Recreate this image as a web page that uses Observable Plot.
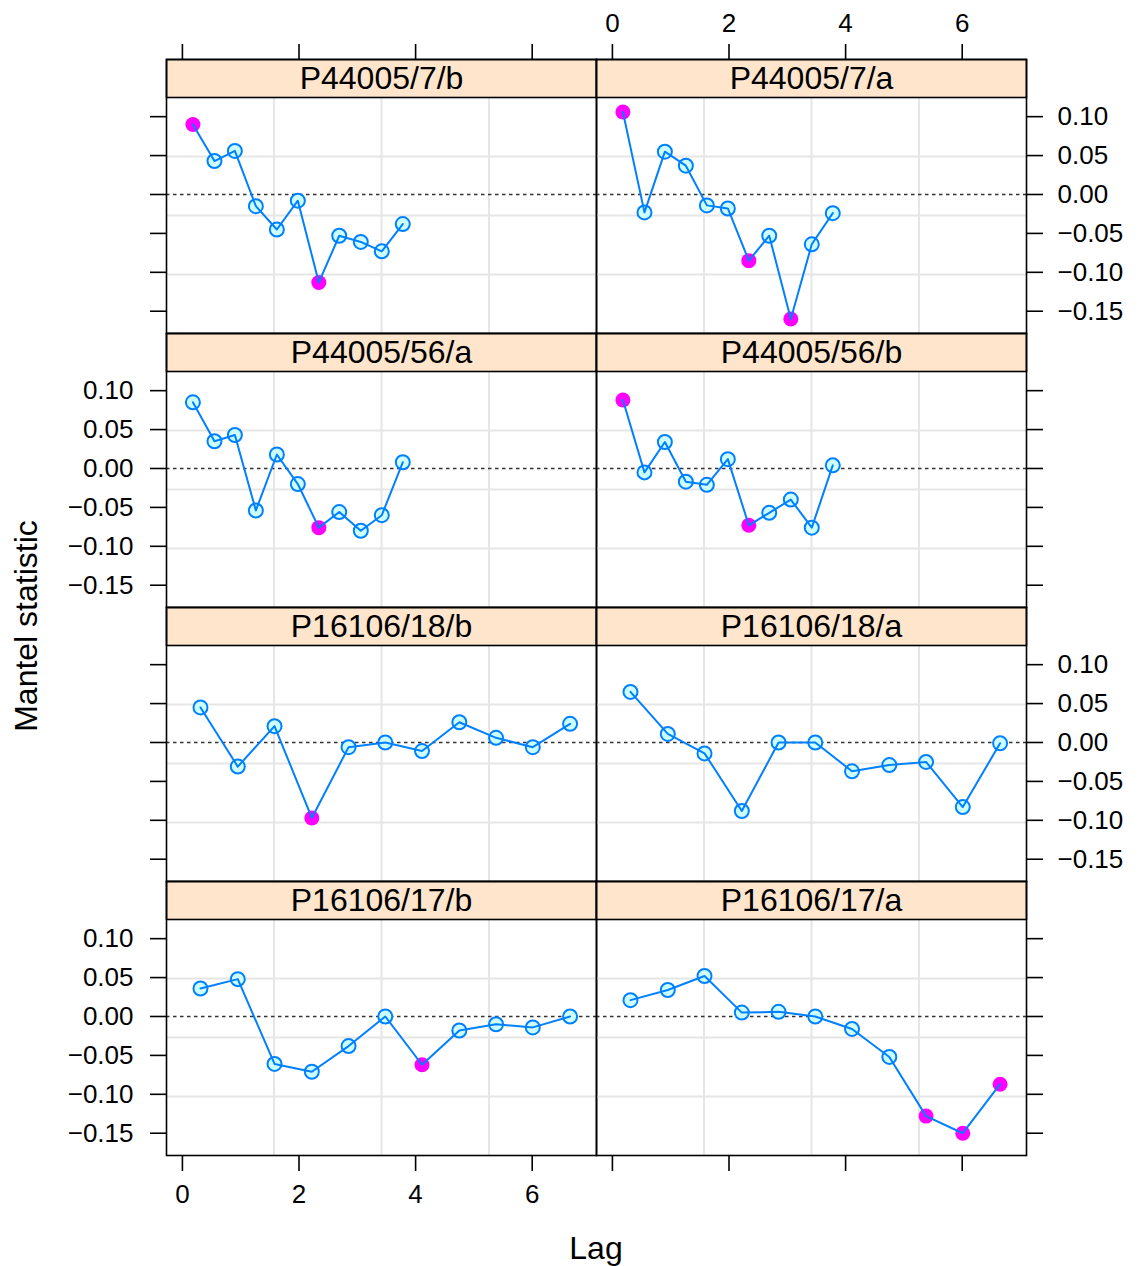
<!DOCTYPE html>
<html><head><meta charset="utf-8">
<script src="https://cdn.jsdelivr.net/npm/d3@7"></script>
<script src="https://cdn.jsdelivr.net/npm/@observablehq/plot@0.6"></script>
<style>
body{margin:0;background:#fff;}
#fig{position:relative;width:1143px;height:1266px;background:#fff;font-family:"Liberation Sans",Arial,Helvetica,sans-serif;overflow:hidden}
#fig svg{position:absolute}
.lab{position:absolute;font-size:32px;color:#000;white-space:nowrap;line-height:1}
</style></head><body><div id="fig"></div>
<script>
// ---- data ----
const lagsP44005 = [0.18, 0.55, 0.90, 1.26, 1.62, 1.98, 2.34, 2.69, 3.06, 3.42, 3.78];
const lagsP16106 = [0.31, 0.95, 1.58, 2.22, 2.85, 3.48, 4.11, 4.75, 5.38, 6.01, 6.65];

const panelNames = ["P44005/7/b", "P44005/7/a", "P44005/56/a", "P44005/56/b",
                    "P16106/18/b", "P16106/18/a", "P16106/17/b", "P16106/17/a"];

const mantel_P44005_7_b  = [0.090, 0.043, 0.056, -0.015, -0.045, -0.008, -0.113, -0.053, -0.061, -0.073, -0.038];
const mantel_P44005_7_a  = [0.106, -0.023, 0.055, 0.037, -0.014, -0.018, -0.085, -0.053, -0.160, -0.064, -0.024];
const mantel_P44005_56_a = [0.085, 0.035, 0.043, -0.054, 0.018, -0.020, -0.076, -0.056, -0.080, -0.060, 0.008];
const mantel_P44005_56_b = [0.088, -0.005, 0.034, -0.017, -0.021, 0.012, -0.073, -0.057, -0.040, -0.076, 0.004];
const mantel_P16106_18_b = [0.045, -0.031, 0.021, -0.097, -0.006, 0.000, -0.011, 0.026, 0.006, -0.006, 0.024];
const mantel_P16106_18_a = [0.065, 0.011, -0.014, -0.088, 0.000, 0.000, -0.037, -0.029, -0.025, -0.083, -0.001];
const mantel_P16106_17_b = [0.036, 0.048, -0.061, -0.071, -0.038, 0.000, -0.062, -0.018, -0.010, -0.014, 0.000];
const mantel_P16106_17_a = [0.021, 0.034, 0.052, 0.005, 0.006, 0.000, -0.016, -0.052, -0.128, -0.150, -0.087];

// 1 = significant (filled magenta)
const sig_P44005_7_b  = [1,0,0,0,0,0,1,0,0,0,0];
const sig_P44005_7_a  = [1,0,0,0,0,0,1,0,1,0,0];
const sig_P44005_56_a = [0,0,0,0,0,0,1,0,0,0,0];
const sig_P44005_56_b = [1,0,0,0,0,0,1,0,0,0,0];
const sig_P16106_18_b = [0,0,0,1,0,0,0,0,0,0,0];
const sig_P16106_18_a = [0,0,0,0,0,0,0,0,0,0,0];
const sig_P16106_17_b = [0,0,0,0,0,0,1,0,0,0,0];
const sig_P16106_17_a = [0,0,0,0,0,0,0,0,1,1,1];

const xTicks = [0, 2, 4, 6];
const yTicks = [-0.15, -0.10, -0.05, 0.00, 0.05, 0.10];

// ---- panels (row, col in the lattice layout) ----
const panels = [
  {name: panelNames[0], lags: lagsP44005, vals: mantel_P44005_7_b,  sig: sig_P44005_7_b,  row: 0, col: 0},
  {name: panelNames[1], lags: lagsP44005, vals: mantel_P44005_7_a,  sig: sig_P44005_7_a,  row: 0, col: 1},
  {name: panelNames[2], lags: lagsP44005, vals: mantel_P44005_56_a, sig: sig_P44005_56_a, row: 1, col: 0},
  {name: panelNames[3], lags: lagsP44005, vals: mantel_P44005_56_b, sig: sig_P44005_56_b, row: 1, col: 1},
  {name: panelNames[4], lags: lagsP16106, vals: mantel_P16106_18_b, sig: sig_P16106_18_b, row: 2, col: 0},
  {name: panelNames[5], lags: lagsP16106, vals: mantel_P16106_18_a, sig: sig_P16106_18_a, row: 2, col: 1},
  {name: panelNames[6], lags: lagsP16106, vals: mantel_P16106_17_b, sig: sig_P16106_17_b, row: 3, col: 0},
  {name: panelNames[7], lags: lagsP16106, vals: mantel_P16106_17_a, sig: sig_P16106_17_a, row: 3, col: 1}
];

// shared scales, lattice-style 7% extension
function extend([a, b]) { const d = (b - a) * 0.07; return [a - d, b + d]; }
const xDomain = extend(d3.extent(panels.flatMap(p => p.lags)));
const yDomain = extend(d3.extent(panels.flatMap(p => p.vals)));
const quarters = ([a, b]) => [1, 2, 3].map(k => a + k * (b - a) / 4);
const gridXs = quarters(xDomain);
const gridYs = quarters(yDomain);

const PW = 430, PH = 236, SH = 38;
const M = {top: 60, right: 125, bottom: 60, left: 170};
const font = '"Liberation Sans", Arial, Helvetica, sans-serif';
const blank = () => "";
const fmtY = d3.format(".2f");
const fig = document.getElementById("fig");

panels.forEach(p => {
  const data = p.lags.map((x, i) => ({lag: x, m: p.vals[i], sig: p.sig[i] === 1}));
  const axisCommon = {tickSize: 16, fontSize: 26, strokeWidth: 1.6, label: null};
  const marks = [
    Plot.ruleX(gridXs, {stroke: "#e6e6e6", strokeWidth: 2}),
    Plot.ruleY(gridYs, {stroke: "#e6e6e6", strokeWidth: 2}),
    Plot.ruleY([0], {stroke: "#333", strokeWidth: 1.3, strokeDasharray: "3.5,3.5"}),
    Plot.frame({fill: "#ffe5cc", stroke: "black", strokeWidth: 1.6, insetBottom: PH}),
    Plot.text([p.name], {text: d => d, frameAnchor: "top", dy: SH / 2, lineAnchor: "middle", fontSize: 32, fill: "black"}),
    Plot.dot(data.filter(d => !d.sig), {x: "lag", y: "m", r: 7, fill: "#ccffff", stroke: "#0080ff", strokeWidth: 2}),
    Plot.dot(data.filter(d => d.sig), {x: "lag", y: "m", r: 7.5, fill: "#ff00ff", stroke: "none"}),
    Plot.line(data, {x: "lag", y: "m", stroke: "#0080ff", strokeWidth: 2}),
    Plot.frame({stroke: "black", strokeWidth: 1.6})
  ];
  if (p.row === 0) marks.push(Plot.axisX(xTicks, {...axisCommon, anchor: "top", tickPadding: 12,
    tickFormat: p.col === 1 ? d => String(d) : blank}));
  if (p.row === 3) marks.push(Plot.axisX(xTicks, {...axisCommon, anchor: "bottom", tickPadding: 13,
    tickFormat: p.col === 0 ? d => String(d) : blank}));
  if (p.col === 0) marks.push(Plot.axisY(yTicks, {...axisCommon, anchor: "left", tickPadding: 17,
    tickFormat: p.row % 2 === 1 ? fmtY : blank}));
  if (p.col === 1) marks.push(Plot.axisY(yTicks, {...axisCommon, anchor: "right", tickPadding: 15,
    tickFormat: p.row % 2 === 0 ? fmtY : blank}));

  const svg = Plot.plot({
    width: PW + M.left + M.right,
    height: SH + PH + M.top + M.bottom,
    marginTop: M.top, marginRight: M.right, marginBottom: M.bottom, marginLeft: M.left,
    x: {domain: xDomain, axis: null},
    y: {domain: yDomain, insetTop: SH, axis: null},
    style: {background: "transparent", overflow: "visible", fontFamily: font, color: "black"},
    marks
  });
  const xLeft = p.col === 0 ? 166 : 596;
  const stripTop = 59 + p.row * (SH + PH);
  svg.style.left = (xLeft - M.left) + "px";
  svg.style.top = (stripTop - M.top) + "px";
  fig.appendChild(svg);
});

// axis titles
const xl = document.createElement("div");
xl.className = "lab"; xl.textContent = "Lag";
xl.style.left = "596px"; xl.style.top = "1248px"; xl.style.transform = "translate(-50%,-50%)";
fig.appendChild(xl);
const yl = document.createElement("div");
yl.className = "lab"; yl.textContent = "Mantel statistic";
yl.style.left = "26px"; yl.style.top = "626px"; yl.style.transform = "translate(-50%,-50%) rotate(-90deg)";
fig.appendChild(yl);
</script></body></html>
